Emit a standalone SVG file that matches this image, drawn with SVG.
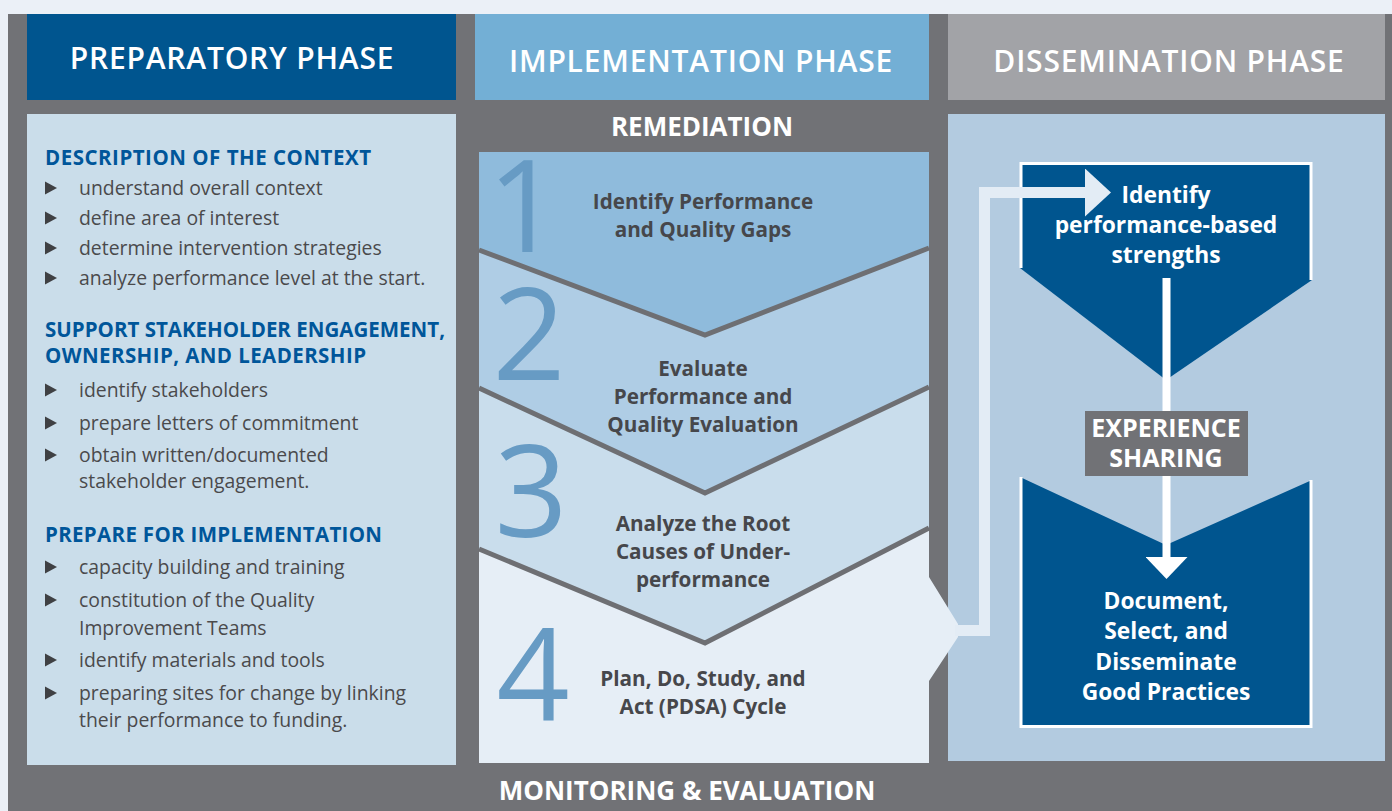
<svg xmlns="http://www.w3.org/2000/svg" width="1392" height="811" viewBox="0 0 1392 811">
<defs>
<style>
text{font-family:'Open Sans','Noto Sans','Liberation Sans',sans-serif;}
.hdr{font-size:30px;font-weight:600;fill:#fff;text-anchor:middle;letter-spacing:0.8px}
.band{font-size:26px;font-weight:700;fill:#fff;text-anchor:middle}
.es{font-size:25px}
.sec{font-size:20.5px;font-weight:700;fill:#00569A}
.item{font-size:19.4px;fill:#4A4A4C}
.bul{fill:#3F4043}
.num{font-size:128px;font-weight:500;fill:#679BC4;text-anchor:middle}
.step{font-size:20.7px;font-weight:700;fill:#46474B;text-anchor:middle}
.box{font-size:22.8px;font-weight:700;fill:#fff;text-anchor:middle}
.chev{stroke:#6E6F73;stroke-width:5;fill:none}
.wb{stroke:#fff;stroke-width:3;fill:none}
</style>
<path id="tri" d="M0,-6.5 L12,0 L0,6.5Z"/>
<marker id="ahLight" markerUnits="userSpaceOnUse" markerWidth="26" markerHeight="48" refX="1" refY="24" orient="auto">
<path d="M0,0 L26,24 L0,48Z" fill="#E3ECF5"/>
</marker>
<marker id="ahWhite" markerUnits="userSpaceOnUse" markerWidth="22" markerHeight="42" refX="1" refY="21" orient="auto">
<path d="M0,0 L22,21 L0,42Z" fill="#fff"/>
</marker>
</defs>

<rect x="0" y="0" width="1392" height="811" fill="#EBF0F7"/>
<rect x="8" y="14" width="1384" height="797" fill="#717276"/>

<!-- Preparatory phase -->
<g id="preparatory-phase">
<rect x="27" y="14" width="429" height="86" fill="#00558F"/>
<text class="hdr" x="232" y="69">PREPARATORY PHASE</text>
<rect x="27" y="114" width="429" height="651" fill="#CADDEA"/>
<g class="bul">
<use href="#tri" x="45" y="188"/>
<use href="#tri" x="45" y="218"/>
<use href="#tri" x="45" y="248"/>
<use href="#tri" x="45" y="278"/>
<use href="#tri" x="45" y="390"/>
<use href="#tri" x="45" y="423"/>
<use href="#tri" x="45" y="455"/>
<use href="#tri" x="45" y="567"/>
<use href="#tri" x="45" y="600"/>
<use href="#tri" x="45" y="660"/>
<use href="#tri" x="45" y="693"/>
</g>
<text class="sec" x="45" y="165" textLength="326">DESCRIPTION OF THE CONTEXT</text>
<text class="item" x="79" y="195">understand overall context</text>
<text class="item" x="79" y="225">define area of interest</text>
<text class="item" x="79" y="255">determine intervention strategies</text>
<text class="item" x="79" y="285">analyze performance level at the start.</text>
<text class="sec" x="45" y="337" textLength="400">SUPPORT STAKEHOLDER ENGAGEMENT,</text>
<text class="sec" x="45" y="363" textLength="321">OWNERSHIP, AND LEADERSHIP</text>
<text class="item" x="79" y="397">identify stakeholders</text>
<text class="item" x="79" y="430">prepare letters of commitment</text>
<text class="item" x="79" y="462">obtain written/documented</text>
<text class="item" x="79" y="488">stakeholder engagement.</text>
<text class="sec" x="45" y="542" textLength="337">PREPARE FOR IMPLEMENTATION</text>
<text class="item" x="79" y="574">capacity building and training</text>
<text class="item" x="79" y="607">constitution of the Quality</text>
<text class="item" x="79" y="635">Improvement Teams</text>
<text class="item" x="79" y="667">identify materials and tools</text>
<text class="item" x="79" y="700">preparing sites for change by linking</text>
<text class="item" x="79" y="727">their performance to funding.</text>
</g>

<!-- Dissemination phase (background) -->
<g id="dissemination-phase">
<rect x="948" y="14" width="437" height="86" fill="#A2A3A7"/>
<text class="hdr" x="1169" y="72">DISSEMINATION PHASE</text>
<rect x="948" y="114" width="437" height="647" fill="#B3CBE0"/>
</g>

<!-- Implementation phase -->
<g id="implementation-phase">
<rect x="475" y="14" width="454" height="86" fill="#73AFD5"/>
<text class="hdr" x="701" y="72">IMPLEMENTATION PHASE</text>
<text class="band" x="702" y="136">REMEDIATION</text>
</g>

<g id="step-1">
<polygon points="479,152 929,152 929,248 705,335 479,250" fill="#8FBBDC"/>
<text class="num" x="524" y="252">1</text>
<text class="step" x="703" y="209">Identify Performance</text>
<text class="step" x="703" y="237">and Quality Gaps</text>
</g>
<g id="step-2">
<polygon points="479,250 705,335 929,248 929,387 705,493 479,388" fill="#AFCDE5"/>
<text class="num" x="529" y="380">2</text>
<text class="step" x="703" y="376">Evaluate</text>
<text class="step" x="703" y="404">Performance and</text>
<text class="step" x="703" y="432">Quality Evaluation</text>
</g>
<g id="step-3">
<polygon points="479,388 705,493 929,387 929,528 705,643 479,549" fill="#C9DDEC"/>
<text class="num" x="531" y="537">3</text>
<text class="step" x="703" y="531">Analyze the Root</text>
<text class="step" x="703" y="559">Causes of Under-</text>
<text class="step" x="703" y="587">performance</text>
</g>
<g id="step-4">
<polygon points="479,549 705,643 929,528 929,577 958,624 958,637 929,681 929,763 479,763" fill="#E6EEF6"/>
<text class="num" x="533" y="720">4</text>
<text class="step" x="703" y="686">Plan, Do, Study, and</text>
<text class="step" x="703" y="714">Act (PDSA) Cycle</text>
</g>
<g id="chevron-lines">
<polyline class="chev" points="479,250 705,335 929,248"/>
<polyline class="chev" points="479,388 705,493 929,387"/>
<polyline class="chev" points="479,549 705,643 929,528"/>
</g>

<g id="monitoring-evaluation">
<text class="band" x="687" y="800">MONITORING &amp; EVALUATION</text>
</g>

<g id="identify-strengths">
<polygon points="1020,162 1312,162 1312,280 1166,380 1020,268" fill="#00558F"/>
<polyline class="wb" points="1021,268 1021,163.5 1311,163.5 1311,280"/>
<text class="box" x="1166" y="203">Identify</text>
<text class="box" x="1166" y="233">performance-based</text>
<text class="box" x="1166" y="263">strengths</text>
</g>

<g id="good-practices">
<polygon points="1020,477 1166,545 1312,480 1312,728 1020,728" fill="#00558F"/>
<polyline class="wb" points="1021,477 1021,726.5 1311,726.5 1311,480"/>
<text class="box" x="1166" y="609">Document,</text>
<text class="box" x="1166" y="639">Select, and</text>
<text class="box" x="1166" y="670">Disseminate</text>
<text class="box" x="1166" y="700">Good Practices</text>
</g>

<g id="connectors">
<path d="M955,630.5 H984.5 V192.5 H1086" fill="none" stroke="#E3ECF5" stroke-width="11" marker-end="url(#ahLight)"/>
<path d="M1166.5,278 V558" fill="none" stroke="#fff" stroke-width="8" marker-end="url(#ahWhite)"/>
</g>

<g id="experience-sharing">
<rect x="1085" y="411" width="163" height="65" fill="#717276"/>
<text class="band es" x="1166" y="437">EXPERIENCE</text>
<text class="band es" x="1166" y="467">SHARING</text>
</g>
</svg>
